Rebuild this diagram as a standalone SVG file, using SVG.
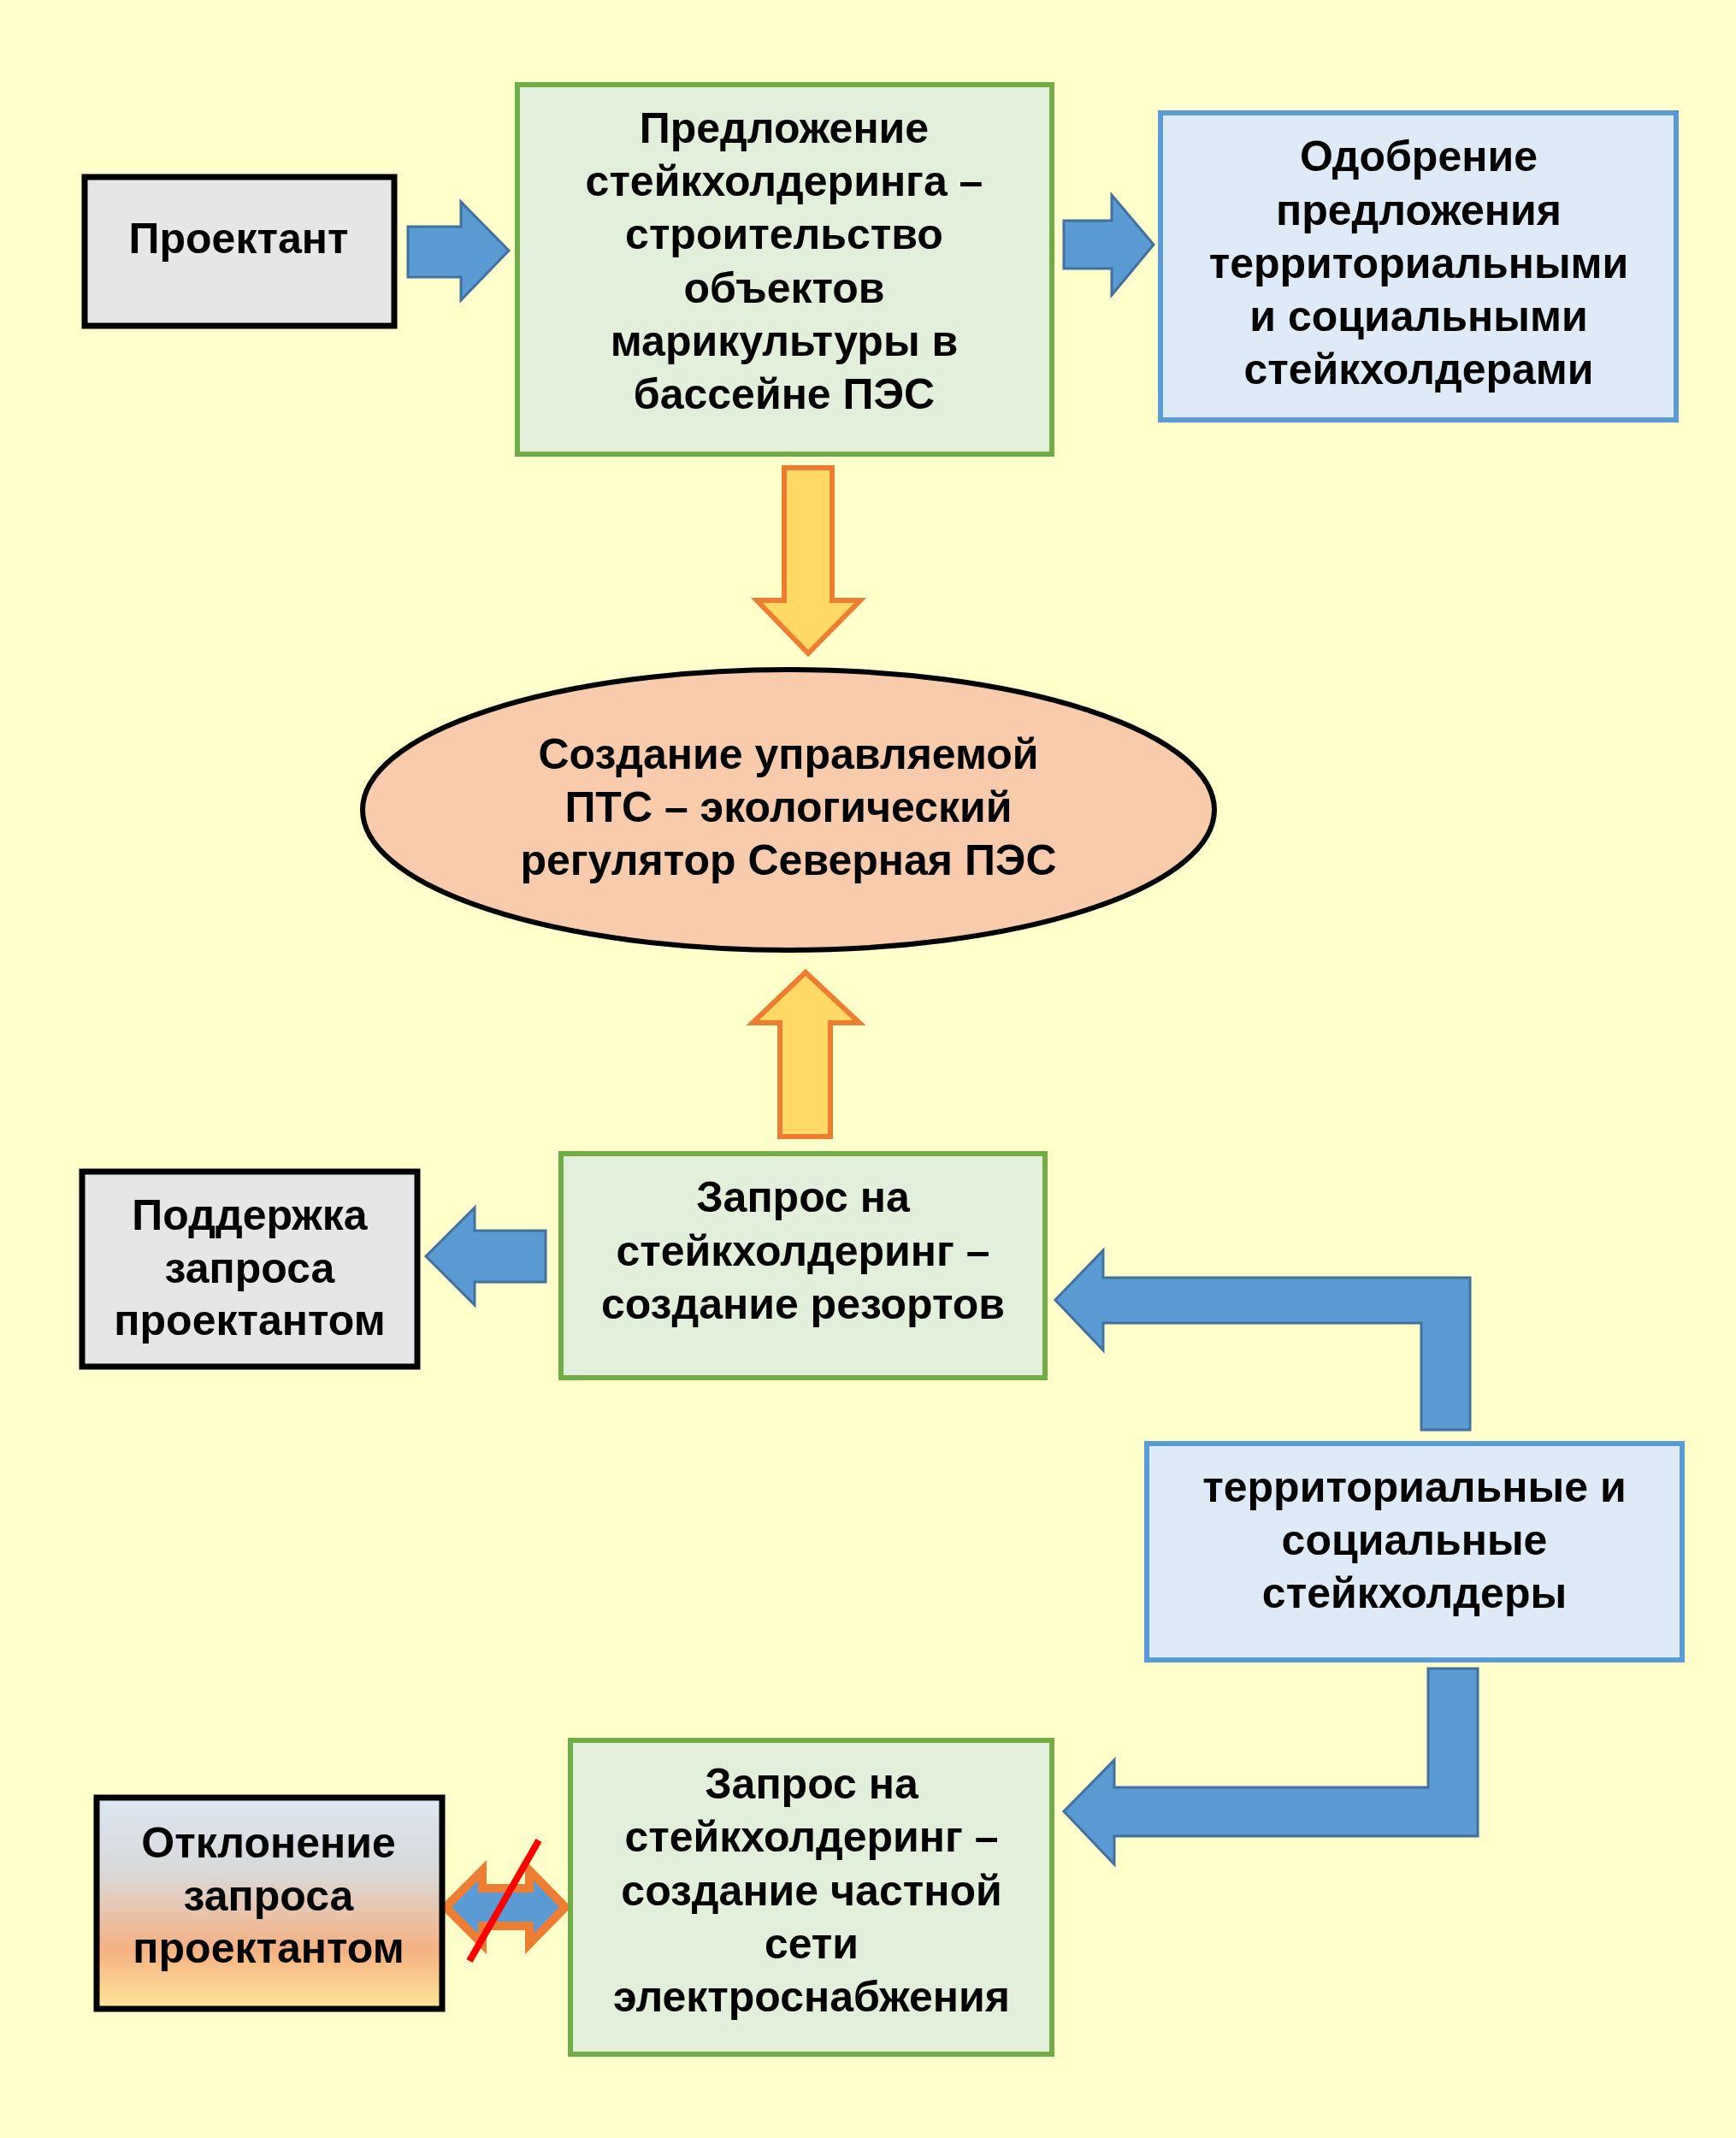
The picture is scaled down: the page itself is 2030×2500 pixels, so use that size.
<svg xmlns="http://www.w3.org/2000/svg" width="2030" height="2500" viewBox="0 0 2030 2500">
<defs>
<linearGradient id="g1" x1="0" y1="0" x2="0" y2="1">
<stop offset="0" stop-color="#DCE6F2"/><stop offset="0.35" stop-color="#D9D9D9"/><stop offset="0.72" stop-color="#F4B183"/><stop offset="1" stop-color="#FFE699"/>
</linearGradient>
</defs>
<style>
text{font-family:"Liberation Sans",Arial,sans-serif;font-weight:bold;font-size:50px;fill:#000;text-anchor:middle}
.gray{fill:#E7E6E6;stroke:#000;stroke-width:7}
.green{fill:#E2EFDA;stroke:#70AD47;stroke-width:6}
.blue{fill:#DEEAF6;stroke:#5B9BD5;stroke-width:6}
.ba{fill:#5B9BD5;stroke:#41719C;stroke-width:3}
.ya{fill:#FFD966;stroke:#ED7D31;stroke-width:6}
</style>
<rect width="2030" height="2500" fill="#FFFFCC"/>
<g id="connectors">
<polygon class="ba" points="477,265 539,265 539,236 595,293 539,351 539,324 477,324"/>
<polygon class="ba" points="1244,258 1300,258 1300,228 1349,286 1300,345 1300,314 1244,314"/>
<polygon class="ya" points="917,547 973,547 973,702 1006,702 945,764 885,702 917,702"/>
<polygon class="ya" points="912,1329 971,1329 971,1196 1005,1196 942,1137 880,1196 912,1196"/>
<polygon class="ba" points="638,1439 555,1439 555,1412 498,1469 555,1526 555,1499 638,1499"/>
<polygon class="ba" points="1719,1672 1662,1672 1662,1547 1290,1547 1290,1579 1234,1520 1290,1462 1290,1494 1719,1494"/>
<polygon class="ba" points="1670,1951 1728,1951 1728,2147 1303,2147 1303,2180 1244,2118 1303,2058 1303,2090 1670,2090"/>
<polygon points="521,2230 564,2187 564,2208 619,2208 619,2187 661,2230 619,2273 619,2252 564,2252 564,2273" fill="#5B9BD5" stroke="#ED7D31" stroke-width="10"/>
<line x1="630" y1="2152" x2="549" y2="2293" stroke="#FF0000" stroke-width="8"/>
</g>
<g id="n1"><rect class="gray" x="99" y="207" width="362" height="174"/><text x="279" y="296">Проектант</text></g>
<g id="n2"><rect class="green" x="605" y="99" width="625" height="432"/>
<text x="917" y="167">Предложение</text><text x="917" y="229">стейкхолдеринга –</text><text x="917" y="291">строительство</text><text x="917" y="354">объектов</text><text x="917" y="416">марикультуры в</text><text x="917" y="478">бассейне ПЭС</text></g>
<g id="n3"><rect class="blue" x="1357" y="132" width="603" height="359"/>
<text x="1659" y="200">Одобрение</text><text x="1659" y="263">предложения</text><text x="1659" y="325">территориальными</text><text x="1659" y="387">и социальными</text><text x="1659" y="449">стейкхолдерами</text></g>
<g id="n4"><ellipse cx="922" cy="947" rx="498" ry="164" fill="#F8CBAD" stroke="#000" stroke-width="6"/>
<text x="922" y="899">Создание управляемой</text><text x="922" y="961">ПТС – экологический</text><text x="922" y="1023">регулятор Северная ПЭС</text></g>
<g id="n5"><rect class="green" x="656" y="1349" width="566" height="262"/>
<text x="939" y="1417">Запрос на</text><text x="939" y="1480">стейкхолдеринг –</text><text x="939" y="1542">создание резортов</text></g>
<g id="n6"><rect class="gray" x="96" y="1370" width="392" height="228"/>
<text x="292" y="1438">Поддержка</text><text x="292" y="1500">запроса</text><text x="292" y="1561">проектантом</text></g>
<g id="n7"><rect class="blue" x="1341" y="1688" width="626" height="253"/>
<text x="1654" y="1756">территориальные и</text><text x="1654" y="1818">социальные</text><text x="1654" y="1880">стейкхолдеры</text></g>
<g id="n8"><rect class="green" x="667" y="2035" width="563" height="367"/>
<text x="949" y="2103">Запрос на</text><text x="949" y="2165">стейкхолдеринг –</text><text x="949" y="2228">создание частной</text><text x="949" y="2290">сети</text><text x="949" y="2352">электроснабжения</text></g>
<g id="n9"><rect x="113" y="2102" width="404" height="247" fill="url(#g1)" stroke="#000" stroke-width="7"/>
<text x="314" y="2172">Отклонение</text><text x="314" y="2234">запроса</text><text x="314" y="2295">проектантом</text></g>
</svg>
